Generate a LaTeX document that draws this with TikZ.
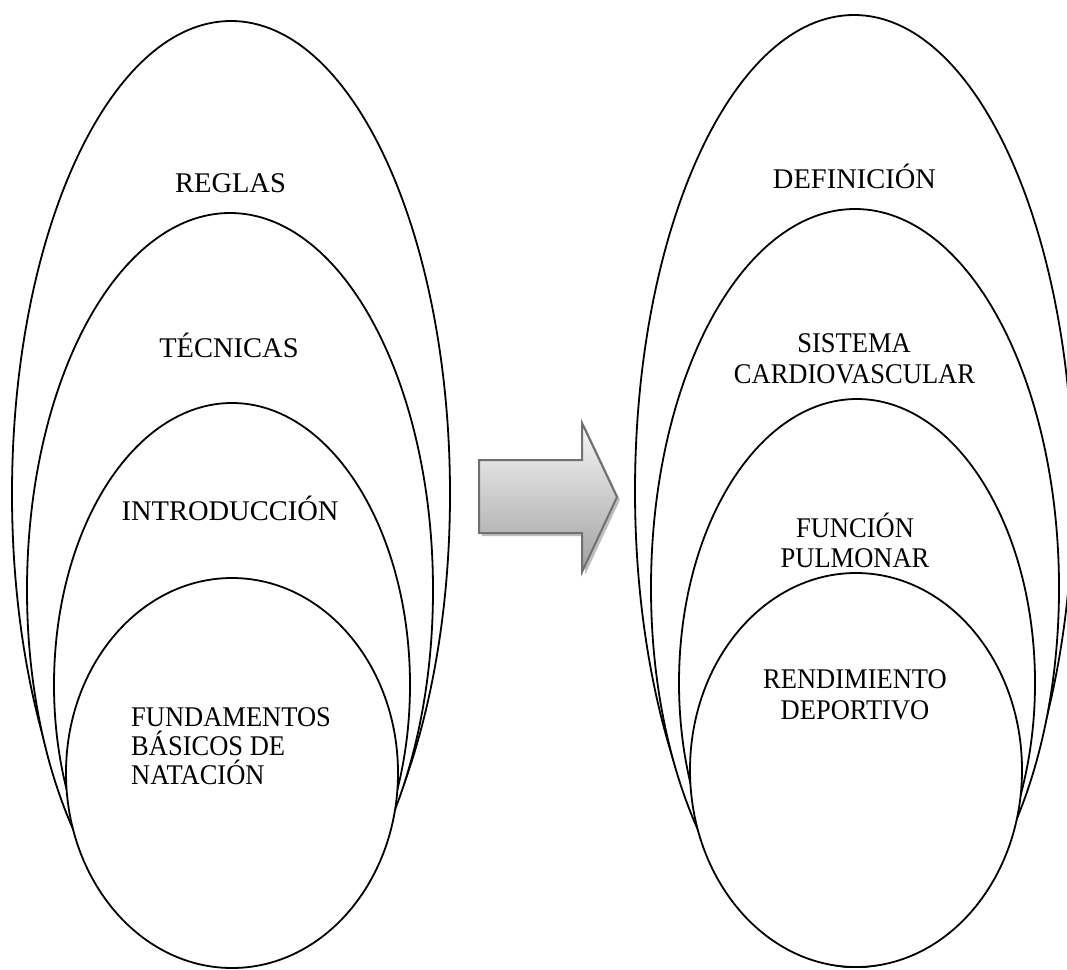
\documentclass[tikz,border=0pt]{standalone}
\usepackage{fontspec}
\setmainfont{Liberation Serif}
\begin{document}
\begin{tikzpicture}[x=1pt,y=-1pt,
  ring/.style={draw=black,fill=white,line width=1.8pt},
  lbl/.style={inner sep=0pt,anchor=base,font=\fontsize{28.5}{30}\selectfont},
  lblw/.style={inner sep=0pt,anchor=base west,font=\fontsize{28.5}{30}\selectfont},
  arrowbody/.style={draw={rgb,255:red,112;green,112;blue,112},line width=2pt,line join=miter,
    top color={rgb,255:red,247;green,247;blue,247},bottom color={rgb,255:red,160;green,160;blue,160}},
  arrowshadow/.style={fill={rgb,255:red,190;green,190;blue,190},draw=none}
]
\useasboundingbox (0,0) rectangle (1067,969);
\clip (0,0) rectangle (1067,969);

% left stack
\draw[ring] (231,494) ellipse [x radius=219pt, y radius=473pt];
\draw[ring] (230,590) ellipse [x radius=203pt, y radius=377pt];
\draw[ring] (232,685) ellipse [x radius=178pt, y radius=282pt];
\draw[ring] (232,773) ellipse [x radius=166pt, y radius=195pt];

% right stack
\draw[ring] (854,491) ellipse [x radius=219pt, y radius=476pt];
\draw[ring] (855,588) ellipse [x radius=204pt, y radius=379pt];
\draw[ring] (857,683) ellipse [x radius=178pt, y radius=284pt];
\draw[ring] (856,770) ellipse [x radius=166pt, y radius=197pt];

% arrow
\fill[arrowshadow] (482,463) -- (585,463) -- (585,426) -- (620,500) -- (585,575) -- (585,536) -- (482,536) -- cycle;
\path[arrowbody] (479,460) -- (582,460) -- (582,423) -- (617,497) -- (582,572) -- (582,533) -- (479,533) -- cycle;

% left labels
\node[lbl] (reglas) at (230.5,192) {REGLAS};
\node[lbl] (tecnicas) at (229,357) {TÉCNICAS};
\node[lbl] (intro) at (230,520) {INTRODUCCIÓN};
\node[lblw] (fund1) at (131,726) {\scalebox{0.93}[1]{FUNDAMENTOS}};
\node[lblw] (fund2) at (131,755) {\scalebox{0.93}[1]{BÁSICOS DE}};
\node[lblw] (fund3) at (131,784) {\scalebox{0.93}[1]{NATACIÓN}};

% right labels
\node[lbl] (defin) at (854.5,188) {DEFINICIÓN};
\node[lbl] (sist1) at (854,352) {\scalebox{0.93}[1]{SISTEMA}};
\node[lbl] (sist2) at (854.5,383) {\scalebox{0.93}[1]{CARDIOVASCULAR}};
\node[lbl] (func1) at (855,537) {\scalebox{0.93}[1]{FUNCIÓN}};
\node[lbl] (func2) at (855,567) {\scalebox{0.93}[1]{PULMONAR}};
\node[lbl] (rend1) at (855,688) {\scalebox{0.93}[1]{RENDIMIENTO}};
\node[lbl] (rend2) at (855,719) {\scalebox{0.93}[1]{DEPORTIVO}};
\end{tikzpicture}
\end{document}
